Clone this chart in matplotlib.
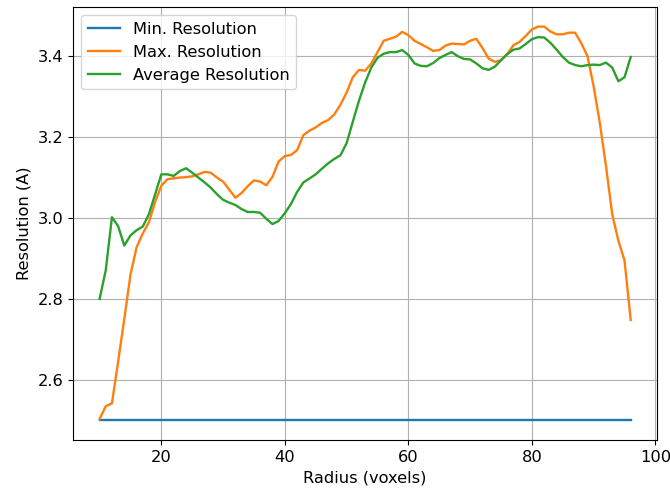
import numpy as np
import matplotlib
matplotlib.use("Agg")
import matplotlib.pyplot as plt

radius = np.arange(10, 97)

min_res = [2.5] * len(radius)

max_res = [
    2.503, 2.535, 2.542, 2.645, 2.750, 2.860, 2.928, 2.962, 2.990, 3.040,
    3.080, 3.096, 3.098, 3.100, 3.101, 3.103, 3.108, 3.114, 3.112, 3.100,
    3.090, 3.070, 3.050, 3.062, 3.079, 3.093, 3.090, 3.081, 3.102, 3.140,
    3.153, 3.156, 3.168, 3.205, 3.216, 3.224, 3.235, 3.242, 3.256, 3.280,
    3.310, 3.348, 3.366, 3.364, 3.382, 3.410, 3.438, 3.443, 3.448, 3.460,
    3.452, 3.438, 3.430, 3.422, 3.413, 3.415, 3.426, 3.431, 3.430, 3.429,
    3.438, 3.443, 3.420, 3.394, 3.386, 3.390, 3.405, 3.427, 3.435, 3.450,
    3.466, 3.473, 3.473, 3.461, 3.454, 3.454, 3.458, 3.458, 3.432, 3.400,
    3.325, 3.235, 3.128, 3.010, 2.944, 2.895, 2.748,
]

avg_res = [
    2.800, 2.871, 3.002, 2.980, 2.932, 2.957, 2.970, 2.979, 3.010, 3.059,
    3.108, 3.108, 3.104, 3.116, 3.123, 3.112, 3.100, 3.088, 3.075, 3.059,
    3.045, 3.038, 3.032, 3.022, 3.015, 3.015, 3.013, 2.998, 2.985, 2.993,
    3.012, 3.035, 3.065, 3.088, 3.098, 3.108, 3.122, 3.135, 3.146, 3.155,
    3.185, 3.238, 3.290, 3.335, 3.372, 3.396, 3.406, 3.410, 3.410, 3.415,
    3.403, 3.382, 3.376, 3.375, 3.383, 3.395, 3.403, 3.410, 3.400, 3.393,
    3.392, 3.382, 3.370, 3.366, 3.374, 3.390, 3.405, 3.416, 3.419, 3.430,
    3.442, 3.447, 3.446, 3.433, 3.416, 3.398, 3.384, 3.378, 3.375, 3.378,
    3.379, 3.378, 3.384, 3.372, 3.338, 3.348, 3.398,
]

plt.rcParams["font.size"] = 11.7

fig, ax = plt.subplots(figsize=(6.7, 4.95), dpi=100)
plt.subplots_adjust(left=0.109, right=0.981, top=0.986, bottom=0.111)

ax.plot(radius, min_res, label="Min. Resolution", lw=1.7)
ax.plot(radius, max_res, label="Max. Resolution", lw=1.7)
ax.plot(radius, avg_res, label="Average Resolution", lw=1.7)

ax.set_xlabel("Radius (voxels)")
ax.set_ylabel("Resolution (A)")
ax.grid(True)
ax.legend(loc="upper left")

fig.savefig("out.png", dpi=100)
